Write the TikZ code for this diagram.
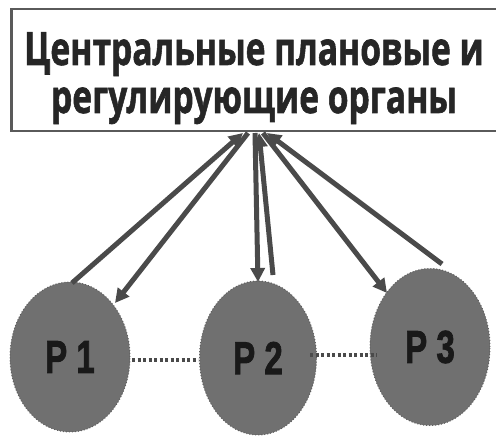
\documentclass[tikz,border=0pt]{standalone}
\usepackage{fontspec}
\setmainfont{Open Sans}[BoldFeatures={FakeBold=1.5}]
\newfontfamily\lblfont{Liberation Sans}[BoldFeatures={FakeBold=2}]
\usetikzlibrary{shapes.geometric,arrows.meta}
\definecolor{ellfill}{HTML}{707070}
\definecolor{ellline}{HTML}{5E5E5E}
\definecolor{arr}{HTML}{4A4A4A}
\definecolor{boxline}{HTML}{5A5A5A}
\begin{document}
\begin{tikzpicture}[x=1pt,y=-1pt,
  titletext/.style={anchor=base,inner sep=0,text=black!85,font=\fontsize{46}{46}\selectfont\bfseries},
  ellnode/.style={ellipse,fill=ellfill,draw=ellline,line width=1pt,dotted,inner sep=0,
     font=\lblfont\fontsize{46}{46}\selectfont\bfseries},
  conn/.style={draw=arr,line width=5pt},
  upconn/.style={conn,-{Triangle[length=14pt,width=14pt]}},
  dotconn/.style={draw=arr,line width=3.5pt,dash pattern=on 3pt off 2.5pt}]
\useasboundingbox (0,0) rectangle (496,436);
\node[draw=boxline,line width=2.5pt,minimum width=490pt,minimum height=122pt,anchor=north west,inner sep=0] (box) at (10,8) {};
\node[titletext] (t1) at (254,65) {\scalebox{0.73}[1]{Центральные плановые и}};
\node[titletext] (t2) at (254,113) {\scalebox{0.73}[1]{регулирующие органы}};
\node[ellnode,minimum width=120pt,minimum height=150pt] (p1) at (70,357) {\textcolor{black!90}{\scalebox{0.72}[1]{P 1}}};
\node[ellnode,minimum width=117pt,minimum height=154pt] (p2) at (258,358) {\textcolor{black!90}{\scalebox{0.72}[1]{P 2}}};
\node[ellnode,minimum width=120pt,minimum height=157pt] (p3) at (430,347) {\textcolor{black!90}{\scalebox{0.72}[1]{P 3}}};
% endpoints
\coordinate (b1) at (243,133);
\coordinate (b2) at (248,133);
\coordinate (b3) at (255,133);
\coordinate (b4) at (259,133);
\coordinate (b5) at (263,133);
\coordinate (b6) at (267,133);
\coordinate (e1) at (72,283);
\coordinate (e2) at (115,303);
\coordinate (e3) at (258,282);
\coordinate (e4) at (273,275);
\coordinate (e5) at (387,293);
\coordinate (e6) at (442,264);
\draw[upconn] (e1) -- (b1);
\draw[upconn] (b2) -- (e2);
\draw[upconn] (b3) -- (e3);
\draw[upconn] (e4) -- (b4);
\draw[upconn] (b5) -- (e5);
\draw[upconn] (e6) -- (b6);
\coordinate (d1) at (132,360);
\coordinate (d2) at (198,360);
\coordinate (d3) at (310,355);
\coordinate (d4) at (377,355);
\draw[dotconn] (d1) -- (d2);
\draw[dotconn] (d3) -- (d4);
\end{tikzpicture}
\end{document}
